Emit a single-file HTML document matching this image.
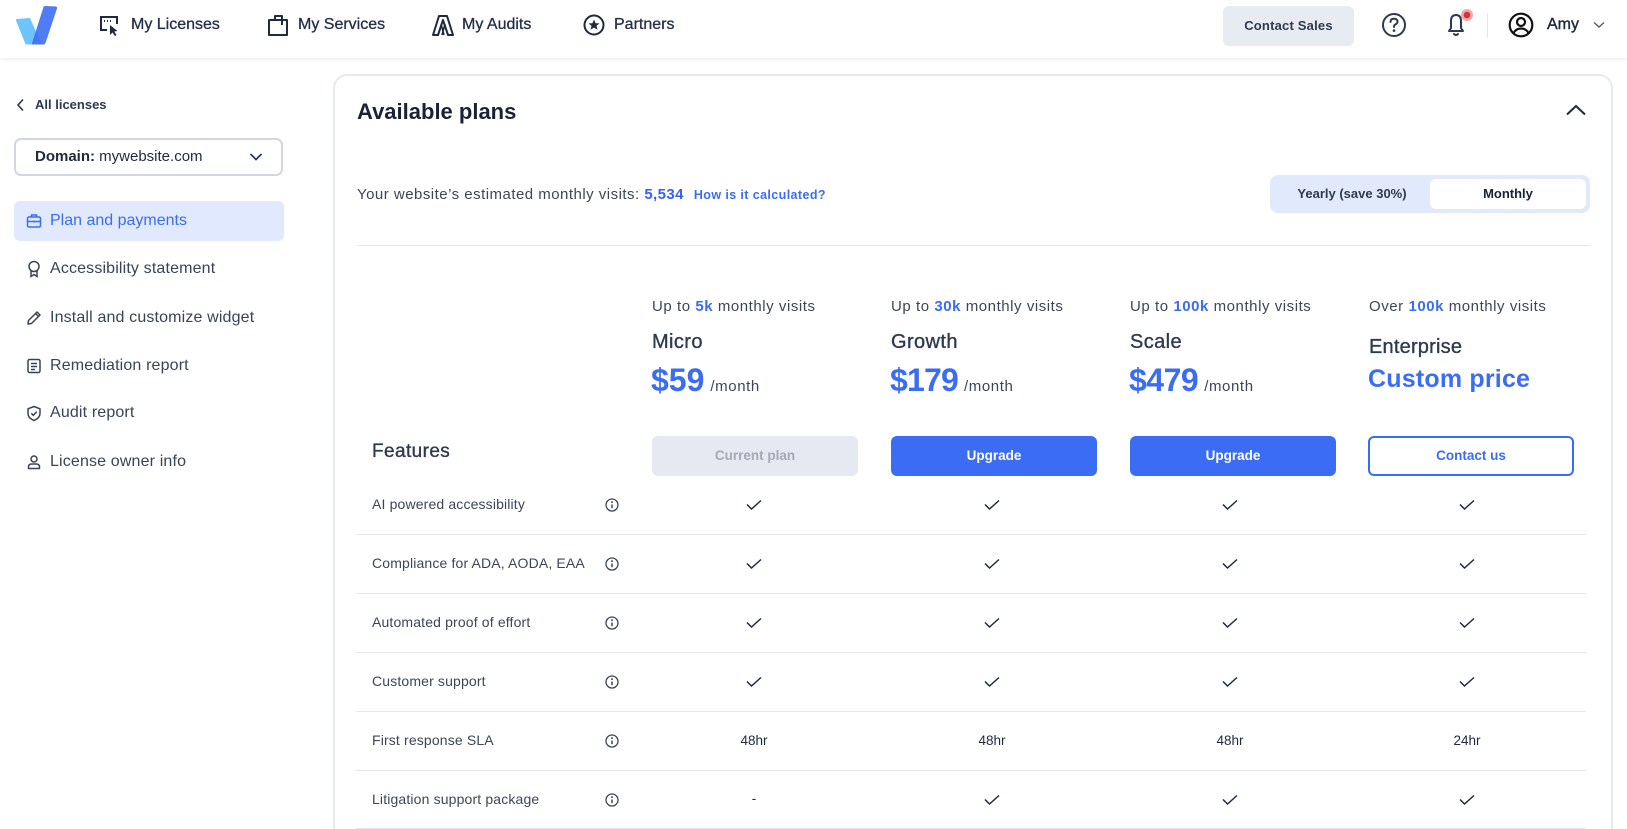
<!DOCTYPE html>
<html><head><meta charset="utf-8">
<style>
*{margin:0;padding:0;box-sizing:border-box}
html,body{width:1627px;height:829px;overflow:hidden;background:#fff;font-family:"Liberation Sans",Arial,sans-serif;color:#2d3a4f}
#wrap{position:relative;width:1627px;height:829px;overflow:hidden;background:#fff}
.a{position:absolute;white-space:nowrap}
.hdr{position:absolute;left:0;top:0;width:1627px;height:58px;background:#fff;box-shadow:0 1px 4px rgba(20,30,60,0.09);z-index:2}
.nav{font-size:16px;line-height:20px;top:15px;color:#243049;-webkit-text-stroke:0.3px #243049}
.side{font-size:16px;line-height:20px;color:#3a4356;left:50px;letter-spacing:0.15px}
.ico{position:absolute}
.card{position:absolute;left:333px;top:74px;width:1280px;height:755px;border:2px solid #e6e9f0;border-bottom:0;border-radius:14px 14px 0 0;background:#fff}
.up{font-size:15px;line-height:20px;top:297px;color:#3d4657;letter-spacing:0.55px}
.up b{color:#3b6cf4}
.pname{font-size:20px;line-height:24px;color:#2d3a4f;-webkit-text-stroke:0.35px #2d3a4f;letter-spacing:0.4px}
.price{top:360px;line-height:40px;color:#3b6cf4;font-weight:bold;font-size:32px}
.price span{font-size:15px;font-weight:normal;color:#3d4657;margin-left:6px;letter-spacing:0.6px}
.btn{position:absolute;top:436px;width:206px;height:40px;border-radius:6px;font-size:13.5px;font-weight:bold;text-align:center;line-height:40px}
.feat{font-size:14px;line-height:20px;color:#3d4657;left:372px;letter-spacing:0.15px}
.line{position:absolute;left:356px;width:1230px;height:1px;background:#e6e8ee}
.val{font-size:13.5px;line-height:20px;color:#1f2a3d;width:80px;text-align:center}
</style></head><body>
<div id="wrap">

<div class="hdr">
  <svg class="ico" style="left:14px;top:4px" width="46" height="44" viewBox="14 4 46 44">
    <path d="M17 19 L29 18 Q30 18 30.5 19 L41 43 Q41 44.5 39.5 44.5 L27 44.5 Q25.5 44.5 25 43 L16 20.5 Q16 19 17 19Z" fill="#6dc5fb"/>
    <path d="M45 6 L56 6.5 Q57.5 7 57 8.5 L45.5 43 Q45 44.5 43.5 44.5 L33 44.5 Q31.5 44.5 32 43 L43.5 7 Q44 6 45 6Z" fill="#3d6ef5" fill-opacity="0.9"/>
  </svg>
  <svg class="ico" style="left:99px;top:15px" width="22" height="22" viewBox="0 0 22 22">
    <path d="M8 15 H2 V2 H18 V9" fill="none" stroke="#1f2a3d" stroke-width="2"/>
    <path d="M5 6 h1 M8 6 h1 M11 6 h1" stroke="#1f2a3d" stroke-width="2"/>
    <path d="M11 10 L11 20 L13.5 17.5 L16 21 L17.5 20 L15.3 16.5 L18.5 16 Z" fill="#1f2a3d"/>
  </svg>
  <div class="a nav" style="left:131px">My Licenses</div>
  <svg class="ico" style="left:267px;top:14px" width="22" height="23" viewBox="0 0 22 23">
    <path d="M2 6 H8 V2 H15 V6 H20 V21 H2 Z M8 6 H15 V11" fill="none" stroke="#1f2a3d" stroke-width="2" stroke-linejoin="round"/>
  </svg>
  <div class="a nav" style="left:298px">My Services</div>
  <svg class="ico" style="left:432px;top:15px" width="22" height="21" viewBox="0 0 22 21">
    <path d="M1 20 L7 1 H15 L21 20 H16 L11 5 L6 20 Z" fill="none" stroke="#1f2a3d" stroke-width="2" stroke-linejoin="round"/>
    <path d="M9 9 L12 20 M13 9 L10 20" stroke="#1f2a3d" stroke-width="1.6"/>
  </svg>
  <div class="a nav" style="left:462px">My Audits</div>
  <svg class="ico" style="left:583px;top:14px" width="22" height="22" viewBox="0 0 22 22">
    <circle cx="11" cy="11" r="9.5" fill="none" stroke="#1f2a3d" stroke-width="2"/>
    <path d="M11 5.5 L12.6 9.2 L16.5 9.4 L13.5 11.9 L14.5 15.7 L11 13.6 L7.5 15.7 L8.5 11.9 L5.5 9.4 L9.4 9.2 Z" fill="#1f2a3d"/>
  </svg>
  <div class="a nav" style="left:614px">Partners</div>

  <div class="a" style="left:1223px;top:6px;width:131px;height:40px;border-radius:6px;background:#e8ebf2;font-size:13px;font-weight:bold;line-height:40px;text-align:center;color:#2d3a4f;letter-spacing:0.2px">Contact Sales</div>
  <svg class="ico" style="left:1381px;top:12px" width="26" height="26" viewBox="0 0 26 26">
    <circle cx="13" cy="13" r="11" fill="none" stroke="#2d3a4f" stroke-width="2"/>
    <path d="M9.5 10 Q9.5 6.8 13 6.8 Q16.5 6.8 16.5 9.8 Q16.5 11.6 14.2 12.6 Q13 13.2 13 15" fill="none" stroke="#2d3a4f" stroke-width="2" stroke-linecap="round"/>
    <circle cx="13" cy="18.6" r="1.3" fill="#2d3a4f"/>
  </svg>
  <svg class="ico" style="left:1443px;top:8px" width="32" height="30" viewBox="0 0 32 30">
    <path d="M6 23 H20 L18 20 V13 Q18 7 13 7 Q8 7 8 13 V20 Z" fill="none" stroke="#2d3a4f" stroke-width="2" stroke-linejoin="round"/>
    <path d="M11 26 Q13 28 15 26" fill="none" stroke="#2d3a4f" stroke-width="2" stroke-linecap="round"/>
    <circle cx="24" cy="7" r="6" fill="#f3a7aa"/>
    <circle cx="24" cy="7" r="3.3" fill="#d3333b"/>
  </svg>
  <div class="a" style="left:1487px;top:13px;width:1px;height:25px;background:#e3e5ea"></div>
  <svg class="ico" style="left:1508px;top:12px" width="26" height="26" viewBox="0 0 26 26">
    <circle cx="13" cy="13" r="11.3" fill="none" stroke="#111" stroke-width="2.2"/>
    <circle cx="13" cy="10" r="4" fill="none" stroke="#111" stroke-width="2.2"/>
    <path d="M5.5 21 Q8 16.5 13 16.5 Q18 16.5 20.5 21" fill="none" stroke="#111" stroke-width="2.2"/>
  </svg>
  <div class="a" style="left:1547px;top:15px;font-size:16px;line-height:20px;color:#1f2a3d;-webkit-text-stroke:0.4px #1f2a3d">Amy</div>
  <svg class="ico" style="left:1593px;top:21px" width="12" height="8" viewBox="0 0 12 8">
    <path d="M1 1.5 L6 6 L11 1.5" fill="none" stroke="#5a6070" stroke-width="1.4"/>
  </svg>
</div>

<svg class="ico" style="left:15px;top:98px" width="12" height="14" viewBox="0 0 12 14">
  <path d="M8 1.5 L3 7 L8 12.5" fill="none" stroke="#2d3a4f" stroke-width="1.6"/>
</svg>
<div class="a" style="left:35px;top:95px;font-size:13px;line-height:20px;font-weight:bold;color:#2d3a4f">All licenses</div>

<div class="a" style="left:14px;top:138px;width:269px;height:38px;border:2px solid #d3d6e0;border-radius:7px"></div>
<div class="a" style="left:35px;top:147px;font-size:15px;line-height:20px;color:#1f2a3d"><b>Domain:</b> mywebsite.com</div>
<svg class="ico" style="left:249px;top:152px" width="14" height="10" viewBox="0 0 14 10">
  <path d="M1.5 2 L7 7.5 L12.5 2" fill="none" stroke="#2d3a4f" stroke-width="1.8"/>
</svg>

<div class="a" style="left:14px;top:201px;width:270px;height:40px;border-radius:6px;background:#e0e9fd"></div>
<svg class="ico" style="left:26px;top:213px" width="16" height="16" viewBox="0 0 16 16">
  <rect x="1.5" y="4" width="13" height="10" rx="1.5" fill="none" stroke="#3b6cf4" stroke-width="1.5"/>
  <path d="M5.5 4 V2 H10.5 V4 M1.5 8.5 H14.5 M8 7.5 V9.5" fill="none" stroke="#3b6cf4" stroke-width="1.5"/>
</svg>
<div class="a side" style="top:211px;color:#3b6cf4;letter-spacing:0">Plan and payments</div>

<svg class="ico" style="left:26px;top:260px" width="16" height="18" viewBox="0 0 16 18">
  <circle cx="8" cy="6.5" r="5" fill="none" stroke="#3a4356" stroke-width="1.5"/>
  <path d="M5 10.5 V16.5 L8 14.5 L11 16.5 V10.5" fill="none" stroke="#3a4356" stroke-width="1.5"/>
</svg>
<div class="a side" style="top:259px">Accessibility statement</div>

<svg class="ico" style="left:26px;top:310px" width="16" height="16" viewBox="0 0 16 16">
  <path d="M11 2 L14 5 L5.5 13.5 L2 14 L2.5 10.5 Z M9.5 3.5 L12.5 6.5" fill="none" stroke="#3a4356" stroke-width="1.5" stroke-linejoin="round"/>
</svg>
<div class="a side" style="top:308px">Install and customize widget</div>

<svg class="ico" style="left:26px;top:358px" width="16" height="16" viewBox="0 0 16 16">
  <rect x="2" y="1.5" width="12" height="13" rx="1.5" fill="none" stroke="#3a4356" stroke-width="1.5"/>
  <path d="M5 5.5 H11 M5 8.5 H11 M5 11.5 H9" stroke="#3a4356" stroke-width="1.4"/>
</svg>
<div class="a side" style="top:356px">Remediation report</div>

<svg class="ico" style="left:26px;top:405px" width="16" height="17" viewBox="0 0 16 17">
  <path d="M8 1.5 L14 3.8 V8.5 Q14 13 8 15.5 Q2 13 2 8.5 V3.8 Z" fill="none" stroke="#3a4356" stroke-width="1.5" stroke-linejoin="round"/>
  <path d="M5.3 8.3 L7.3 10.3 L10.8 6.6" fill="none" stroke="#3a4356" stroke-width="1.5"/>
</svg>
<div class="a side" style="top:403px">Audit report</div>

<svg class="ico" style="left:26px;top:454px" width="16" height="16" viewBox="0 0 16 16">
  <circle cx="8" cy="5" r="3" fill="none" stroke="#3a4356" stroke-width="1.5"/>
  <path d="M2.5 14.5 V13 Q2.5 10 5.5 10 H10.5 Q13.5 10 13.5 13 V14.5 Z" fill="none" stroke="#3a4356" stroke-width="1.5" stroke-linejoin="round"/>
</svg>
<div class="a side" style="top:452px">License owner info</div>

<div class="card"></div>
<div class="a" style="left:357px;top:99px;font-size:22px;line-height:26px;font-weight:bold;color:#1a2238">Available plans</div>
<svg class="ico" style="left:1565px;top:103px" width="22" height="14" viewBox="0 0 22 14">
  <path d="M2 11.5 L11 3 L20 11.5" fill="none" stroke="#1f2a3d" stroke-width="2"/>
</svg>

<div class="a" style="left:357px;top:185px;font-size:15px;line-height:20px;color:#3d4657;letter-spacing:0.48px">Your website’s estimated monthly visits: <b style="color:#3b5ef0;letter-spacing:0.4px">5,534</b><span style="margin-left:10px;font-size:12.5px;font-weight:bold;color:#3b6cf4;letter-spacing:0.4px">How is it calculated?</span></div>

<div class="a" style="left:1270px;top:175px;width:320px;height:38px;border-radius:8px;background:#e1eafd"></div>
<div class="a" style="left:1430px;top:179px;width:156px;height:30px;border-radius:6px;background:#fff"></div>
<div class="a" style="left:1274px;top:184px;width:156px;text-align:center;font-size:13px;line-height:20px;font-weight:bold;color:#2d3a4f">Yearly (save 30%)</div>
<div class="a" style="left:1430px;top:184px;width:156px;text-align:center;font-size:13px;line-height:20px;font-weight:bold;color:#1a2238">Monthly</div>

<div class="a" style="left:357px;top:245px;width:1233px;height:1px;background:#e6e8ee"></div>

<div class="a up" style="left:652px">Up to <b>5k</b> monthly visits</div>
<div class="a up" style="left:891px">Up to <b>30k</b> monthly visits</div>
<div class="a up" style="left:1130px">Up to <b>100k</b> monthly visits</div>
<div class="a up" style="left:1369px">Over <b>100k</b> monthly visits</div>

<div class="a pname" style="left:652px;top:330px">Micro</div>
<div class="a pname" style="left:891px;top:330px">Growth</div>
<div class="a pname" style="left:1130px;top:330px">Scale</div>
<div class="a pname" style="left:1369px;top:335px;letter-spacing:0.2px">Enterprise</div>

<div class="a price" style="left:651px">$59<span>/month</span></div>
<div class="a price" style="left:890px;letter-spacing:-0.8px">$179<span>/month</span></div>
<div class="a price" style="left:1129px;letter-spacing:-0.5px">$479<span>/month</span></div>
<div class="a" style="left:1368px;top:363px;font-size:25px;line-height:32px;font-weight:bold;color:#3b6cf4;letter-spacing:0.2px">Custom price</div>

<div class="btn" style="left:652px;background:#e6e9f1;color:#a4a9b5">Current plan</div>
<div class="btn" style="left:891px;background:#3b6cf4;color:#fff">Upgrade</div>
<div class="btn" style="left:1130px;background:#3b6cf4;color:#fff">Upgrade</div>
<div class="btn" style="left:1368px;background:#fff;color:#3b6cf4;border:2px solid #3b6cf4;line-height:36px">Contact us</div>

<div class="a" style="left:372px;top:440px;font-size:19px;line-height:24px;color:#2d3a4f;-webkit-text-stroke:0.35px #2d3a4f;letter-spacing:0.4px">Features</div>

<div class="a feat" style="top:494px">AI powered accessibility</div>
<div class="a feat" style="top:553px">Compliance for ADA, AODA, EAA</div>
<div class="a feat" style="top:612px">Automated proof of effort</div>
<div class="a feat" style="top:671px">Customer support</div>
<div class="a feat" style="top:730px">First response SLA</div>
<div class="a feat" style="top:789px">Litigation support package</div>

<div class="line" style="top:534px"></div>
<div class="line" style="top:593px"></div>
<div class="line" style="top:652px"></div>
<div class="line" style="top:711px"></div>
<div class="line" style="top:770px"></div>
<div class="line" style="top:828px"></div>

<svg class="ico" style="left:0;top:0" width="1627" height="829" viewBox="0 0 1627 829">
  <defs>
    <g id="inf">
      <circle cx="0" cy="0" r="6" fill="none" stroke="#3d4657" stroke-width="1.3"/>
      <path d="M0 -0.5 V3.2" stroke="#3d4657" stroke-width="1.5"/>
      <circle cx="0" cy="-2.9" r="0.95" fill="#3d4657"/>
    </g>
    <path id="ck" d="M-7 -0.5 L-2.5 4 L7 -4.5" fill="none" stroke="#1f2a3d" stroke-width="1.5"/>
  </defs>
  <use href="#inf" x="612" y="505"/>
  <use href="#inf" x="612" y="564"/>
  <use href="#inf" x="612" y="623"/>
  <use href="#inf" x="612" y="682"/>
  <use href="#inf" x="612" y="741"/>
  <use href="#inf" x="612" y="800"/>

  <use href="#ck" x="754" y="505"/><use href="#ck" x="992" y="505"/><use href="#ck" x="1230" y="505"/><use href="#ck" x="1467" y="505"/>
  <use href="#ck" x="754" y="564"/><use href="#ck" x="992" y="564"/><use href="#ck" x="1230" y="564"/><use href="#ck" x="1467" y="564"/>
  <use href="#ck" x="754" y="623"/><use href="#ck" x="992" y="623"/><use href="#ck" x="1230" y="623"/><use href="#ck" x="1467" y="623"/>
  <use href="#ck" x="754" y="682"/><use href="#ck" x="992" y="682"/><use href="#ck" x="1230" y="682"/><use href="#ck" x="1467" y="682"/>
  <use href="#ck" x="992" y="800"/><use href="#ck" x="1230" y="800"/><use href="#ck" x="1467" y="800"/>
</svg>

<div class="a val" style="left:714px;top:731px">48hr</div>
<div class="a val" style="left:952px;top:731px">48hr</div>
<div class="a val" style="left:1190px;top:731px">48hr</div>
<div class="a val" style="left:1427px;top:731px">24hr</div>
<div class="a val" style="left:714px;top:789px">-</div>

</div>
</body></html>
